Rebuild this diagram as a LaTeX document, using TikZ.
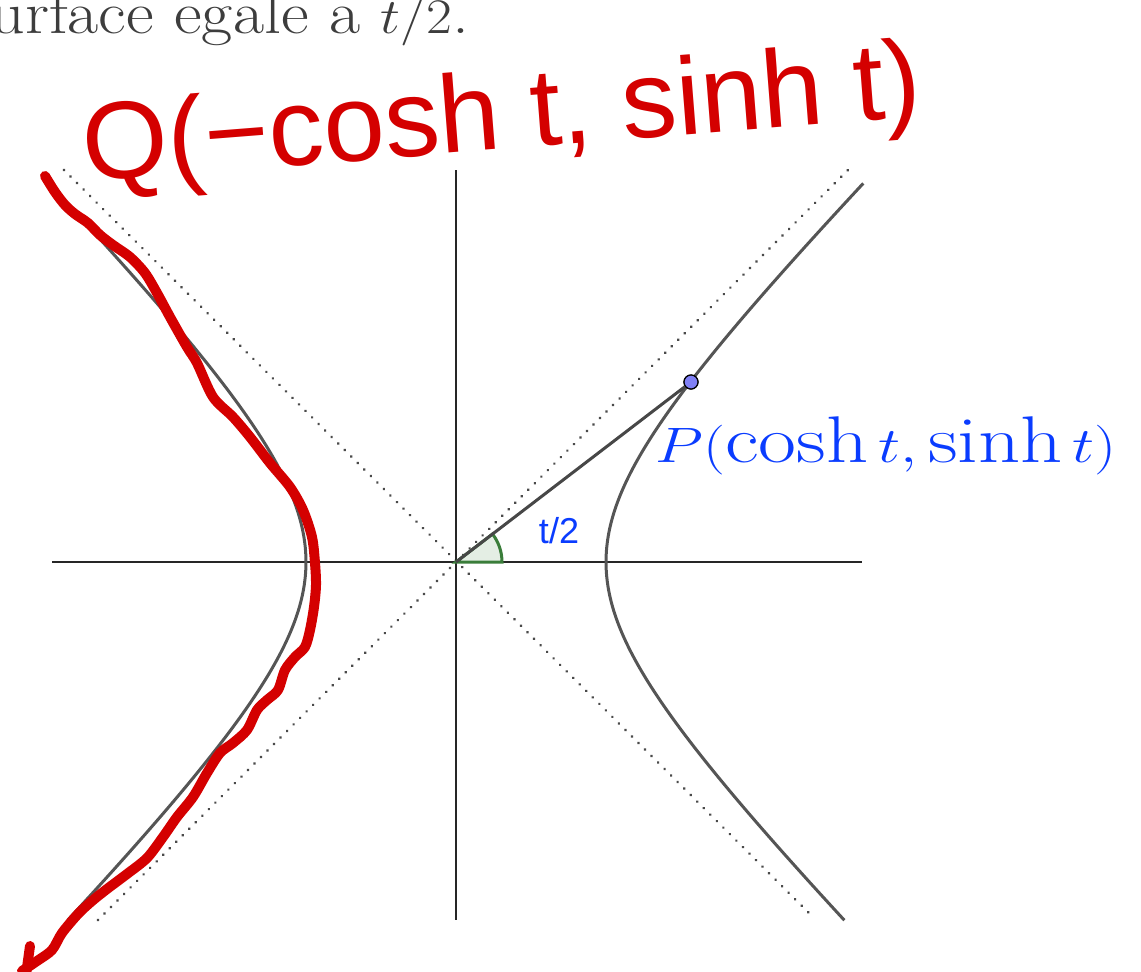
\documentclass[tikz,border=0pt]{standalone}
\usepackage{fontspec}
\usetikzlibrary{calc}
\newfontfamily\handfont{Liberation Sans}
\newfontfamily\ggbfont{Liberation Sans}
\definecolor{txtgray}{HTML}{3D3D3D}
\definecolor{curvegray}{HTML}{555555}
\definecolor{dotgray}{HTML}{4A4A4A}
\definecolor{inkred}{HTML}{D40000}
\definecolor{ggbblue}{HTML}{0A3CFF}
\definecolor{ptblue}{HTML}{8080F5}
\definecolor{anggreen}{HTML}{3A7D3A}
\definecolor{angfill}{HTML}{E4EEE4}
\tikzset{
  axis/.style={line width=0.8pt, black!85},
  asym/.style={line width=1.5pt, dotgray, dash pattern=on 0.01pt off 4.6pt, line cap=round},
  hyp/.style={line width=1.5pt, curvegray},
  radius line/.style={line width=1.5pt, black!72},
  ptdot/.style={circle, draw=black, line width=0.6pt, fill=ptblue, inner sep=0pt, minimum size=7pt},
  ink/.style={line width=5pt, inkred, line cap=round, line join=round},
  anglemark/.style={line width=1.5pt, draw=anggreen, fill=angfill},
}
\begin{document}
\begin{tikzpicture}[x=0.5pt, y=-0.5pt]
\useasboundingbox (0,0) rectangle (1141,971);
% top text
\node[anchor=base west, inner sep=0pt, text=txtgray, xscale=1.13, font=\fontsize{30}{34}\selectfont] (toptext) at (-10,33) {urface egale a $t/2$.};
% coordinates
\coordinate (O) at (456,562);
\coordinate (xl) at (52,562);
\coordinate (xr) at (862,562);
\coordinate (yt) at (456,170);
\coordinate (yb) at (456,920);
\coordinate (a1s) at (64,170);
\coordinate (a1e) at (814,918);
\coordinate (a2s) at (98,920);
\coordinate (a2e) at (848,170);
% asymptotes
\draw[asym] (a1s) -- (a1e);
\draw[asym] (a2s) -- (a2e);
% axes
\draw[axis] (xl) -- (xr);
\draw[axis] (yt) -- (yb);
% angle
\filldraw[anglemark] (O) -- ($(O)+(46,0)$) arc[start angle=0, end angle=-37.45, radius=46] -- cycle;
% hyperbola
\draw[hyp] plot[domain=-1.605:1.657, samples=120, smooth] ({456+150*(exp(\x)+exp(-\x))/2}, {562-150*(exp(\x)-exp(-\x))/2});
\draw[hyp] plot[domain=-1.605:1.657, samples=120, smooth] ({456-150*(exp(\x)+exp(-\x))/2}, {562-150*(exp(\x)-exp(-\x))/2});
% point P
\node[ptdot] (P) at (691,382) {};
\draw[radius line] (O) -- (P);
\node[ptdot] at (P) {};
% labels
\node[anchor=center, text=ggbblue, font=\ggbfont\fontsize{18}{21}\selectfont] (half) at (559,531) {t/2};
\node[anchor=base west, inner sep=0pt, text=ggbblue, xscale=1.25, font=\fontsize{33}{38}\selectfont] (Plabel) at (655,462) {$P(\cosh t,\sinh t)$};
% handwriting
\node[anchor=base west, inner sep=0pt, text=inkred, rotate=4.5, font=\handfont\fontsize{55}{60}\selectfont] (Qlabel) at (85,182) {Q(−cosh t, sinh t)};
% red curve
\draw[ink] plot[smooth, tension=0.5] coordinates {(45,176) (55,192) (65,205) (75,214) (88,223) (100,235) (113,245) (130,257) (145,273) (157,293) (170,317) (187,347) (197,363) (213,397) (233,417) (250,437) (270,463) (290,487) (303,510) (312,537) (315,563) (316,585) (314,607) (310,630) (305,647) (295,657) (285,670) (278,690) (267,700) (257,710) (247,730) (233,743) (220,753) (207,773) (193,797) (177,817) (163,837) (147,858) (127,874) (107,889) (92,901) (78,914) (62,933) (52,950) (37,961) (22,971)};
\coordinate (tick1) at (30,946);
\coordinate (tick2) at (26,975);
\draw[ink] (tick1) -- (tick2);
\end{tikzpicture}
\end{document}
